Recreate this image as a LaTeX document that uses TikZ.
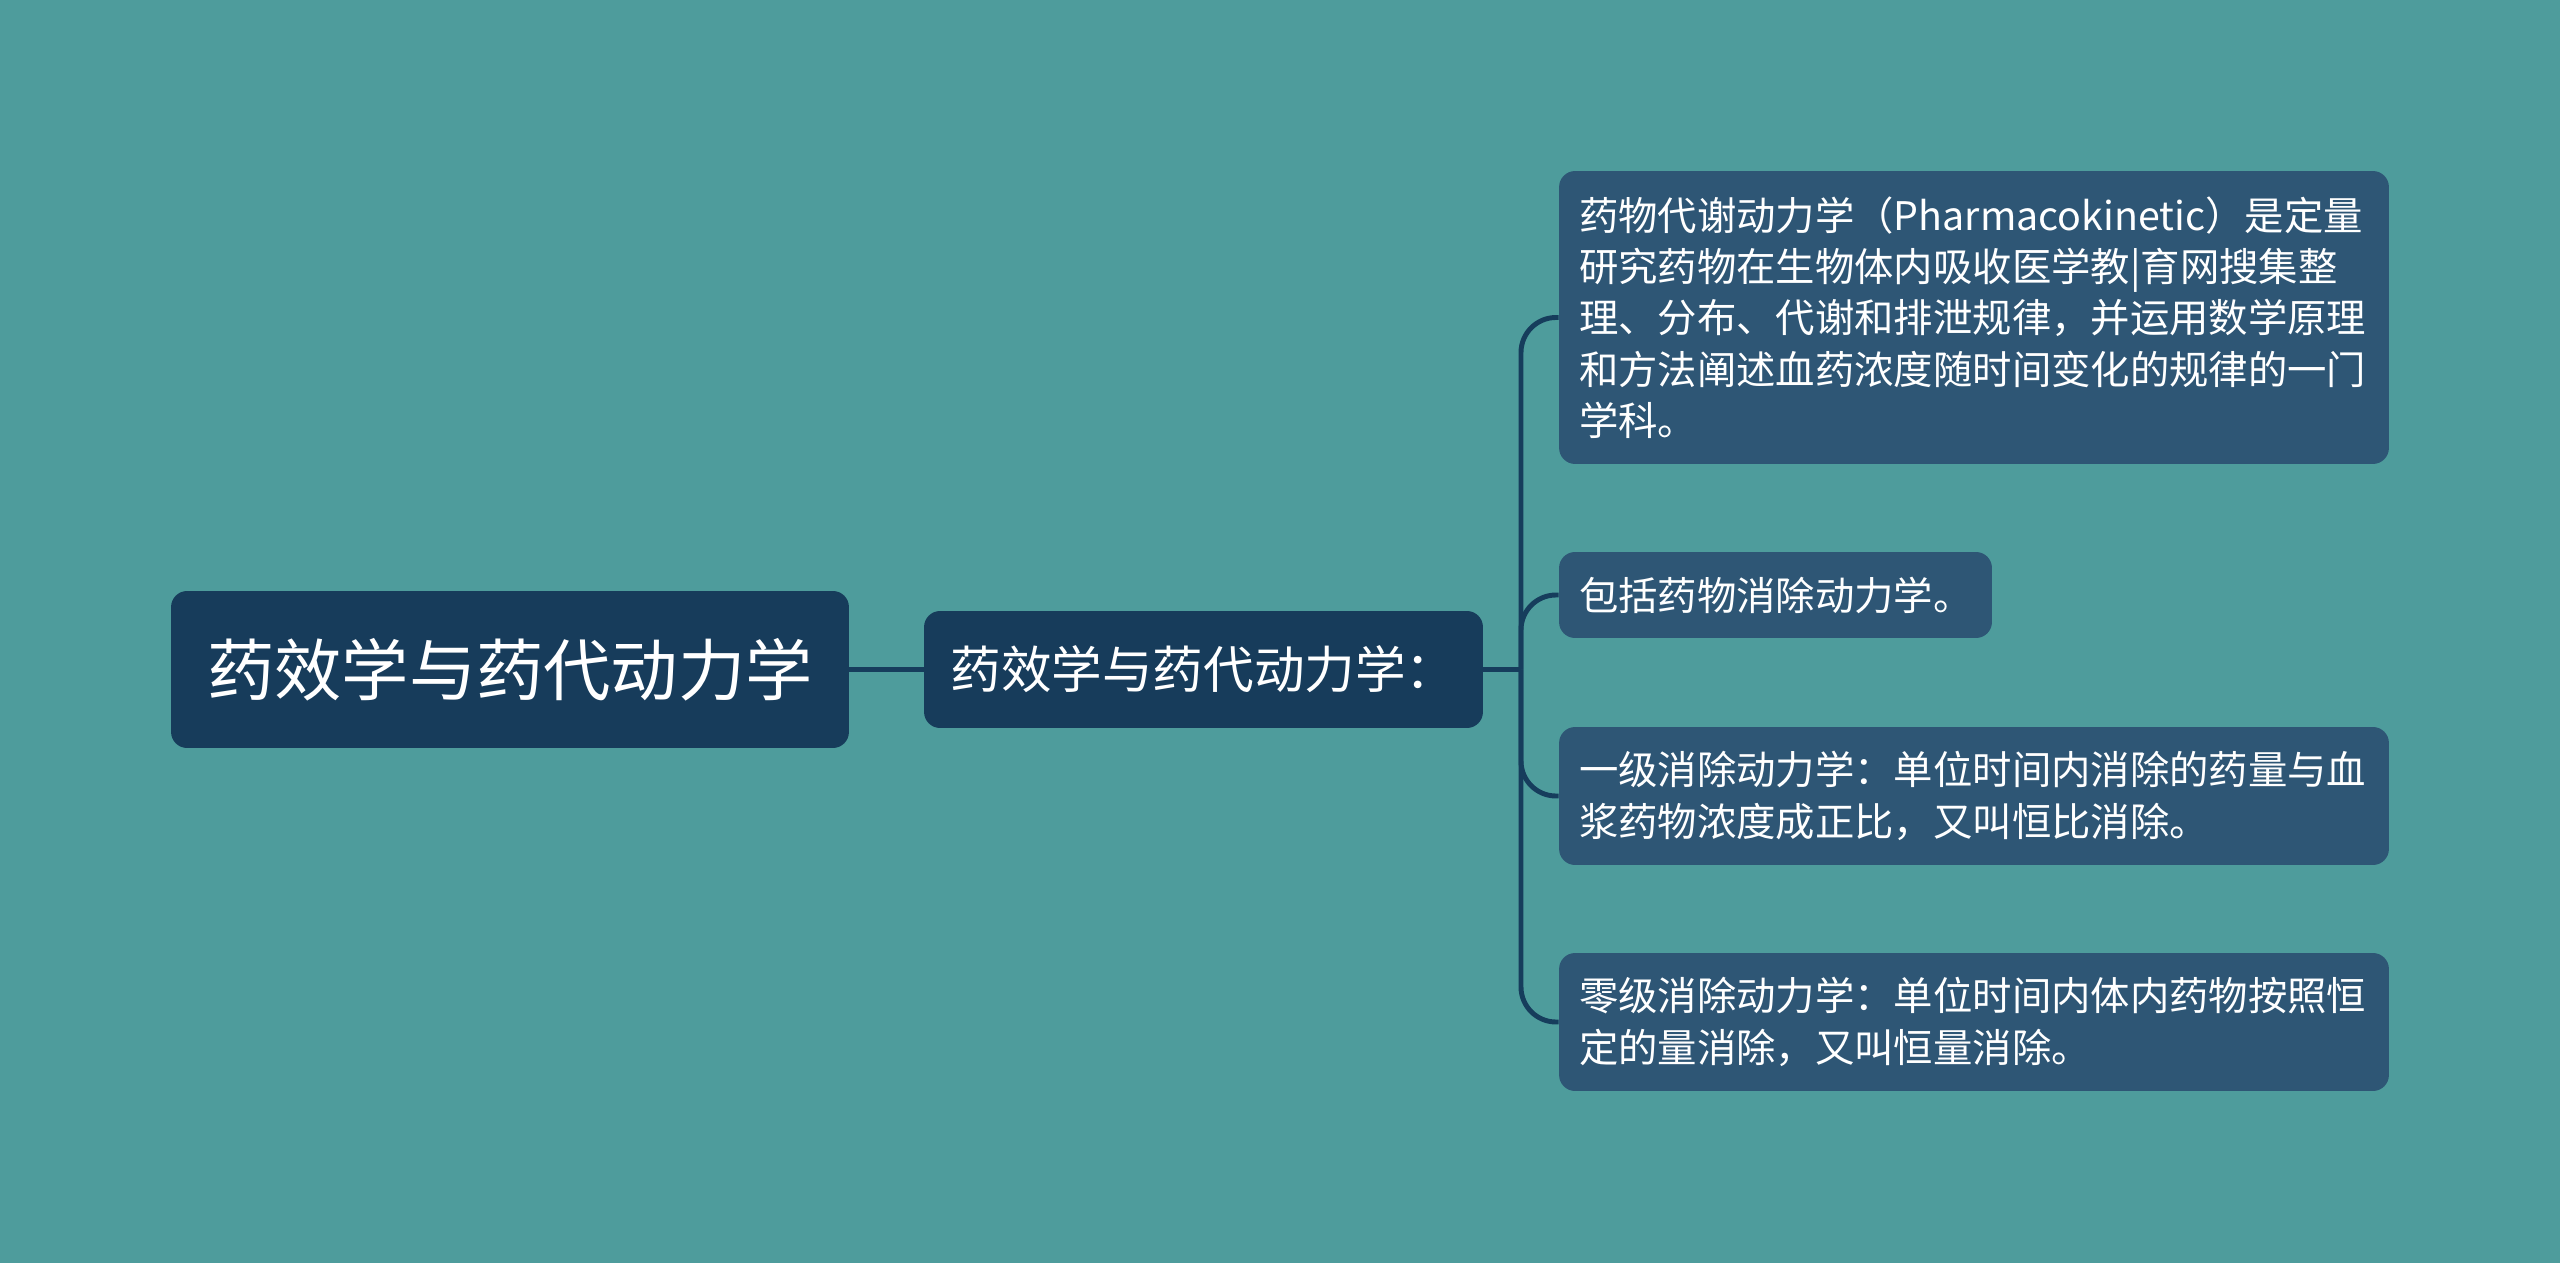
\documentclass[tikz,border=0pt]{standalone}
\usepackage{fontspec}
\newfontfamily\cjk{Noto Sans CJK SC}
\definecolor{bgteal}{HTML}{4E9C9C}
\definecolor{rootnavy}{HTML}{173C5B}
\definecolor{leafnavy}{HTML}{2E5675}
\definecolor{linknavy}{HTML}{163D5C}
\tikzset{
  rootbox/.style = {fill = rootnavy, text = white, rounded corners = 0.32cm, inner xsep = 0.4cm, inner ysep = 0pt, font = \cjk\fontsize{38.3}{46}\selectfont},
  midbox/.style = {rootbox, font = \cjk\fontsize{28.8}{36}\selectfont},
  leafbox/.style = {fill = leafnavy, text = white, rounded corners = 0.32cm, inner xsep = 0.4cm, inner ysep = 0pt, align = left, font = \cjk\fontsize{22.4}{29.2}\selectfont},
  link/.style = {draw = linknavy, line width = 2.8pt, rounded corners = 0.7cm}
}
\begin{document}
\begin{tikzpicture}[x = 0.02cm, y = -0.02cm]
		%%%%%%%%%%%%%
		\fill[bgteal] (0, 0) rectangle (2560, 1263);
		\useasboundingbox (0, 0) rectangle (2560, 1263);
		%%%%%%%%%%%%%
		\node[rootbox, minimum width = 13.56cm, minimum height = 3.14cm] (root) at (510, 669.5) {药效学与药代动力学};
		\node[midbox, minimum width = 11.18cm, minimum height = 2.34cm] (mid) at (1203.5, 669.5) {药效学与药代动力学：};
		\coordinate (fork) at (1521, 669.5);
		\node[leafbox, text width = 15.8cm, minimum height = 5.86cm] (pk) at (1974, 317.5) {药物代谢动力学（Pharmacokinetic）是定量\\研究药物在生物体内吸收医学教|育网搜集整\\理、分布、代谢和排泄规律，并运用数学原理\\和方法阐述血药浓度随时间变化的规律的一门\\学科。};
		\node[leafbox, text width = 7.86cm, minimum height = 1.72cm] (elim) at (1775.5, 595) {包括药物消除动力学。};
		\node[leafbox, text width = 15.8cm, minimum height = 2.76cm] (first) at (1974, 796) {一级消除动力学：单位时间内消除的药量与血\\浆药物浓度成正比，又叫恒比消除。};
		\node[leafbox, text width = 15.8cm, minimum height = 2.76cm] (zero) at (1974, 1022) {零级消除动力学：单位时间内体内药物按照恒\\定的量消除，又叫恒量消除。};
		%%%%%%%%%%%%%
		\draw[link] (root) to (mid);
		\draw[link] (mid) to (fork);
		\draw[link] (fork) |- (pk.west);
		\draw[link] (fork) |- (elim.west);
		\draw[link] (fork) |- (first.west);
		\draw[link] (fork) |- (zero.west);
		%%%%%%%%%%%%%%
	\end{tikzpicture}
\end{document}
